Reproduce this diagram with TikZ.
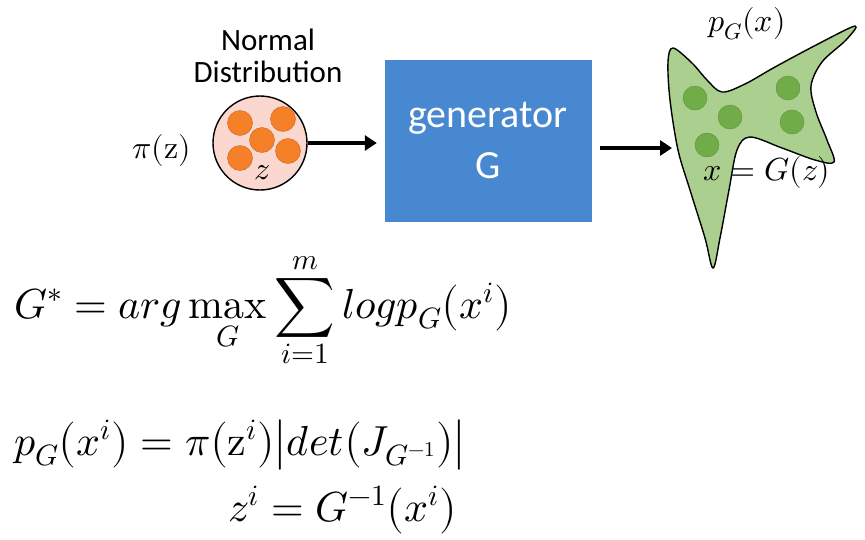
\documentclass[tikz,border=0pt]{standalone}
\usepackage{fontspec}
\usepackage{unicode-math}
\setmainfont{Carlito}
\setmathfont{Latin Modern Math}
\usetikzlibrary{arrows.meta}
\definecolor{pinkfill}{RGB}{250,216,208}
\definecolor{orangedot}{RGB}{245,128,40}
\definecolor{genblue}{RGB}{72,136,208}
\definecolor{blobgreen}{RGB}{170,207,142}
\definecolor{dotgreen}{RGB}{112,172,72}
\tikzset{
  arr/.style={line width=3.5pt,-{Triangle[length=12pt,width=15pt]}},
  odot/.style={circle,fill=orangedot,draw=orangedot!80!black,line width=0.4pt,minimum size=25pt,inner sep=0pt},
  gdot/.style={circle,fill=dotgreen,draw=dotgreen!85!black,line width=0.4pt,minimum size=24pt,inner sep=0pt},
  lbl/.style={font=\fontsize{31}{36}\selectfont,inner sep=0pt},
  mlbl/.style={font=\fontsize{32}{36}\selectfont,inner sep=0pt},
  mth/.style={font=\fontsize{42}{48}\selectfont,inner sep=0pt,anchor=base west},
}
\begin{document}
\begin{tikzpicture}[x=1pt,y=-1pt]
\useasboundingbox (0,0) rectangle (865,539);
% labels
\node[lbl,anchor=base] (normal) at (268,50) {Normal};
\node[lbl,anchor=base] (distr) at (268,82) {Distribution};
\node[mlbl] (piz) at (162,150) {$\pi(\symup{z})$};
% circle
\node[circle,draw=black,line width=1.4pt,fill=pinkfill,minimum size=94pt,inner sep=0pt] (circ) at (260,143) {};
\node[odot] (o1) at (240,123) {};
\node[odot] (o2) at (283,119) {};
\node[odot] (o3) at (262,140) {};
\node[odot] (o4) at (240,158) {};
\node[odot] (o5) at (288,151) {};
\node[mlbl] (zl) at (262,173) {$z$};
% generator
\node[fill=genblue,minimum width=207pt,minimum height=162pt,inner sep=0pt] (gen) at (488.5,141) {};
\node[lbl,text=white,font=\fontsize{40}{44}\selectfont] (gtxt) at (488,118) {generator};
\node[lbl,text=white,font=\fontsize{40}{44}\selectfont] (gG) at (488,166) {G};
% blob
\draw[line width=1.4pt,fill=blobgreen] plot[smooth cycle,tension=0.55] coordinates {
 (673,48) (692,63) (707,80) (722,92) (745,84) (775,67) (818,44) (855,26) (846,40) (822,62)
 (811,86) (816,112) (827,140) (834,162) (815,160) (782,148) (750,137) (737,150) (729,190)
 (720,238) (713,268) (705,238) (690,190) (678,150) (670,100) (668,62)};
\node[gdot] (g1) at (695,98) {};
\node[gdot] (g2) at (730,117) {};
\node[gdot] (g3) at (788,88) {};
\node[gdot] (g4) at (792,122) {};
\node[gdot] (g5) at (707,145) {};
\coordinate (blobin) at (672,148);
\node[mlbl] (pgx) at (747,24) {$p_G(x)$};
\node[mlbl] (xgz) at (767,172) {$x = G(z)$};
% arrows
\draw[arr] (circ.east) -- ([xshift=-8pt]gen.west |- circ.east);
\draw[arr] ([xshift=8pt]gen.east |- blobin) -- (blobin);
% formulas
\node[mth] (f1) at (14,318) {$\displaystyle G^* = arg\mathop{\symup{max}}_G \sum_{i=1}^{m} log p_G\bigl(x^i\bigr)$};
\node[mth] (f2) at (14,455) {$p_G\bigl(x^i\bigr) = \pi\bigl(\symup{z}^i\bigr)\bigl|det\bigl(J_{G^{-1}}\bigr)\bigr|$};
\node[mth] (f3) at (228,521) {$z^i = G^{-1}\bigl(x^i\bigr)$};
\end{tikzpicture}
\end{document}
